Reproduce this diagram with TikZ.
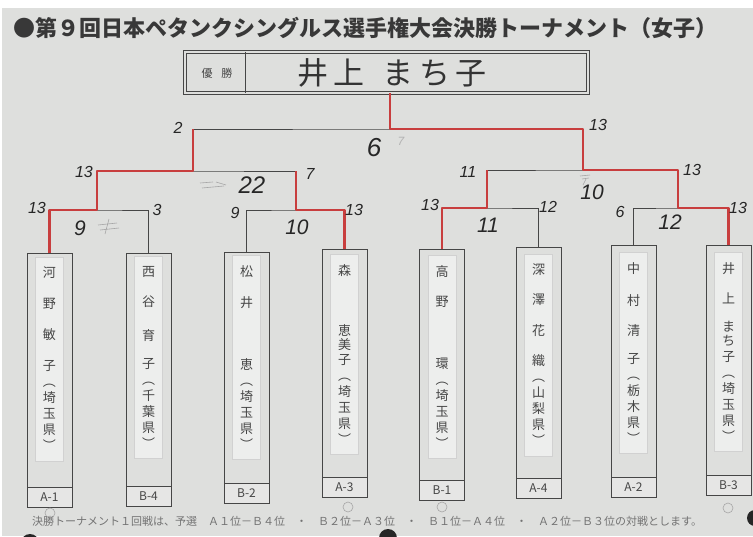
\documentclass[tikz,border=0pt]{standalone}
\usepackage{fontspec}
\usepackage{tikz}
\usetikzlibrary{positioning}
\newfontfamily\cjk{Noto Sans CJK JP}
\newfontfamily\hand{Liberation Sans}
\definecolor{paper}{RGB}{222,223,221}
\definecolor{strip}{RGB}{237,238,237}
\definecolor{redpen}{RGB}{200,62,62}
\definecolor{ink}{RGB}{70,70,70}

\begin{document}
\begin{tikzpicture}[
    x=1pt, y=-1pt,
    every node/.style={font=\cjk},
    link/.style={draw=ink, line width=0.8pt},
    win/.style={draw=redpen, line width=2.8pt, line join=round},
    slip/.style={rectangle, draw=ink, line width=0.9pt, fill=paper, minimum width=45pt, anchor=north, inner sep=0pt},
    seed/.style={rectangle, draw=ink, line width=0.9pt, fill=strip!50!paper, minimum width=45pt, minimum height=20pt, anchor=south, inner sep=0pt, font=\cjk\fontsize{12}{12}\selectfont, text=ink},
    player/.style={rectangle, draw=black!18, fill=strip, text width=24pt, align=center, inner xsep=2pt, inner ysep=10pt, font=\cjk\fontsize{13}{16}\selectfont, text=ink},
    score/.style={font=\hand\itshape\fontsize{16}{16}\selectfont, text=black!85},
    bigscore/.style={font=\hand\itshape\fontsize{21}{21}\selectfont, text=black!85},
    erased/.style={font=\hand\itshape\fontsize{12}{12}\selectfont, text=black!30},
    pencil/.style={draw=black!35, line width=0.6pt}
]
    \useasboundingbox (0,0) rectangle (753,536);
    \clip (0,0) rectangle (753,536);
    \fill[white] (0,0) rectangle (753,536);
    \fill[paper] (2,8) rectangle (753,536);

    % Title
    \node[anchor=west, inner sep=0pt, font=\cjk\bfseries\fontsize{22}{22}\selectfont, text=black!78] (title) at (13,28) {●第９回日本ペタンクシングルス選手権大会決勝トーナメント（女子）};

    % Champion
    \node[draw=ink, line width=0.7pt, double=paper, double distance=2pt, minimum width=403pt, minimum height=41pt, inner sep=0pt] (champ) at (386.5,72.5) {};
    \draw[link] ([xshift=61pt]champ.north west) -- ([xshift=61pt]champ.south west);
    \node[font=\cjk\fontsize{11}{11}\selectfont, text=ink] (yusho) at (217,73) {優\hspace{9pt}勝};
    \node[font=\cjk\fontsize{31}{31}\selectfont, text=black!80] (champname) at (392,73) {井\,上\hspace{18pt}ま\,ち\,子};

    % Slips
    \node[slip, minimum height=254pt] (s1) at (49.5,253) {};
    \node[seed] (t1) at (s1.south) {A-1};
    \node[player, below=4pt of s1.north] (n1) {河\\[15pt]野\\[15pt]敏\\[15pt]子\\︵\\埼\\玉\\県\\︶};

    \node[slip, minimum height=253pt] (s2) at (148.5,253) {};
    \node[seed] (t2) at (s2.south) {B-4};
    \node[player, below=3pt of s2.north] (n2) {西\\[14pt]谷\\[18pt]育\\[12pt]子\\︵\\千\\葉\\県\\︶};

    \node[slip, minimum height=251pt] (s3) at (246.5,252) {};
    \node[seed] (t3) at (s3.south) {B-2};
    \node[player, below=3pt of s3.north] (n3) {松\\[15pt]井\\[46pt]恵\\︵\\埼\\玉\\県\\︶};

    \node[slip, minimum height=248pt] (s4) at (344.5,249) {};
    \node[seed] (t4) at (s4.south) {A-3};
    \node[player, below=5pt of s4.north] (n4) {森\\[44pt]恵\\[-2pt]美\\[-1pt]子\\︵\\埼\\玉\\県\\︶};

    \node[slip, minimum height=251pt] (s5) at (442,249) {};
    \node[seed] (t5) at (s5.south) {B-1};
    \node[player, below=6pt of s5.north] (n5) {高\\[14pt]野\\[46pt]環\\︵\\埼\\玉\\県\\︶};

    \node[slip, minimum height=251pt] (s6) at (538.5,247) {};
    \node[seed] (t6) at (s6.south) {A-4};
    \node[player, below=7pt of s6.north] (n6) {深\\[14pt]澤\\[15pt]花\\[14pt]織\\︵\\山\\梨\\県\\︶};

    \node[slip, minimum height=252pt] (s7) at (633.5,245) {};
    \node[seed] (t7) at (s7.south) {A-2};
    \node[player, below=7pt of s7.north] (n7) {中\\[16pt]村\\[14pt]清\\[12pt]子\\︵\\栃\\木\\県\\︶};

    \node[slip, minimum height=250pt] (s8) at (728.5,245) {};
    \node[seed] (t8) at (s8.south) {B-3};
    \node[player, below=7pt of s8.north] (n8) {井\\[14pt]上\\[12pt]ま\\[-2pt]ち\\子\\︵\\埼\\玉\\県\\︶};

    % Bracket
    \coordinate (q1) at (97,210);
    \coordinate (q2) at (296,210);
    \coordinate (q3) at (487,208);
    \coordinate (q4) at (678,208);
    \coordinate (h1) at (193,171);
    \coordinate (h2) at (583,170);
    \coordinate (fin) at (390,129);

    \draw[link] (s1.north) |- (q1) -| (s2.north);
    \draw[link] (s3.north) |- (q2) -| (s4.north);
    \draw[link] (s5.north) |- (q3) -| (s6.north);
    \draw[link] (s7.north) |- (q4) -| (s8.north);
    \draw[link] (q1) |- (h1) -| (q2);
    \draw[link] (q3) |- (h2) -| (q4);
    \draw[link] (h1) |- (fin) -| (h2);

    % Winners
    \draw[win] (s1.north) |- (q1) |- (h1) -- (h1 |- fin);
    \draw[win] (s4.north) |- (q2) -- (q2 |- h1);
    \draw[win] (s5.north) |- (q3) -- (q3 |- h2);
    \draw[win] (s8.north) |- (q4) |- (h2) |- (fin) -- (fin |- champ.south);

    % Scores
    \node[score] (a1) at (37,208) {13};
    \node[score] (a2) at (157,210) {3};
    \node[bigscore] (a3) at (80,228) {9};
    \node[score] (b1) at (235,213) {9};
    \node[score] (b2) at (354,210) {13};
    \node[bigscore] (b3) at (297,227) {10};
    \node[score] (c1) at (430,205) {13};
    \node[score] (c2) at (548,207) {12};
    \node[bigscore] (c3) at (488,225) {11};
    \node[score] (d1) at (620,212) {6};
    \node[score] (d2) at (738,208) {13};
    \node[bigscore] (d3) at (670,222) {12};
    \node[score] (e1) at (84,172) {13};
    \node[score] (e2) at (310,174) {7};
    \node[bigscore, font=\hand\itshape\fontsize{24}{24}\selectfont] (e3) at (252,185) {22};
    \node[score] (f1) at (468,172) {11};
    \node[score] (f2) at (692,170) {13};
    \node[bigscore] (f3) at (592,192) {10};
    \node[score] (g1) at (178,128) {2};
    \node[score] (g2) at (598,125) {13};
    \node[bigscore, font=\hand\itshape\fontsize{26}{26}\selectfont] (g3) at (374,148) {6};

    % Erased pencil
    \node[erased] (x1) at (401,141) {7};
    \draw[pencil] (98,225) -- (117,223) (100,230) -- (119,228) (109,219) -- (105,234);
    \draw[pencil] (200,183) -- (213,182) (202,188) -- (224,186) (216,182) -- (226,185);
    \draw[pencil] (580,176) -- (590,175) (582,179) -- (589,178) (586,179) -- (583,185);

    % Pencil circles
    \draw[pencil] (50,513) circle (5pt);
    \draw[pencil] (348,507) circle (5pt);
    \draw[pencil] (442,507) circle (5pt);
    \draw[pencil] (728,508) circle (5pt);

    % Note
    \node[anchor=west, inner sep=0pt, font=\cjk\fontsize{11}{11}\selectfont, text=black!55] (note) at (32,521) {決勝トーナメント１回戦は、予選　Ａ１位－Ｂ４位　・　Ｂ２位－Ａ３位　・　Ｂ１位－Ａ４位　・　Ａ２位－Ｂ３位の対戦とします。};

    % Clips
    \fill[black!85] (30,543) circle (9pt);
    \fill[black!85] (388,538) circle (9pt);
    \fill[black!85] (755,518) circle (8pt);
\end{tikzpicture}
\end{document}
